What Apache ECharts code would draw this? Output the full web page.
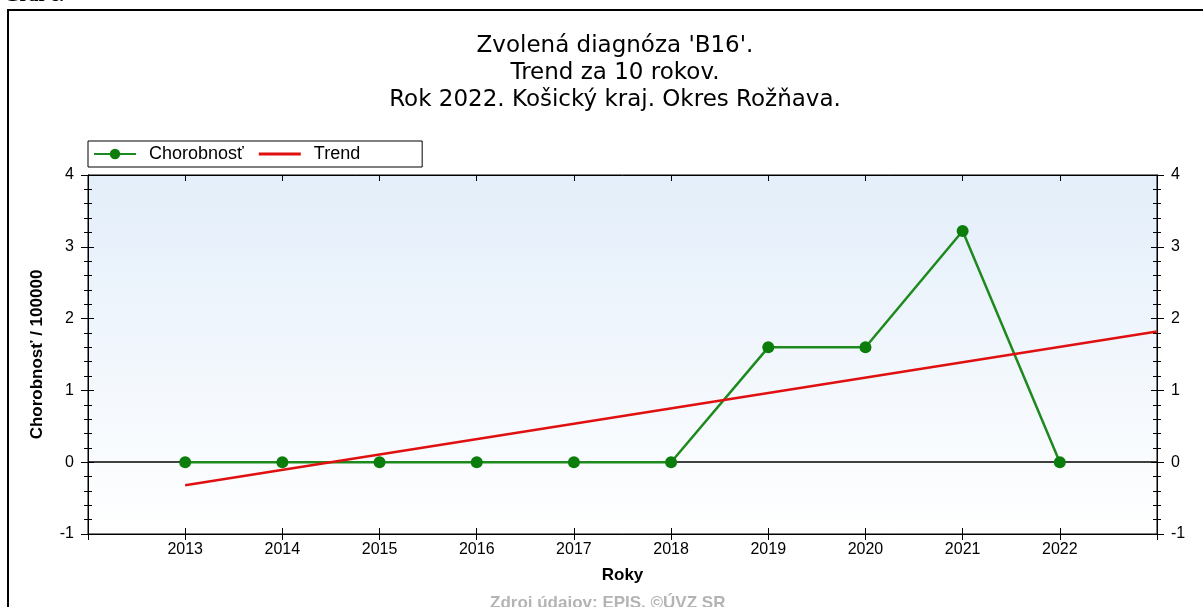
<!DOCTYPE html>
<html>
<head>
<meta charset="utf-8">
<script src="https://cdn.jsdelivr.net/npm/echarts@6/dist/echarts.min.js"></script>
<style>
html, body { margin: 0; padding: 0; background: #fff; }
#chart { width: 1203px; height: 607px; }
</style>
</head>
<body>
<div id="chart"></div>
<script>
// data
const years = [2013, 2014, 2015, 2016, 2017, 2018, 2019, 2020, 2021, 2022];
const chorobnost = [0, 0, 0, 0, 0, 0, 1.6, 1.6, 3.22, 0];
const trendYears = [2013, 2023];
const trendValues = [-0.32, 1.82];
const yTicks = [-1, 0, 1, 2, 3, 4];

const font = 'Liberation Sans, Arial, sans-serif';
const chart = echarts.init(document.getElementById('chart'));

const yBase = {
    type: 'value', min: yTicks[0], max: yTicks[yTicks.length - 1], interval: 1,
    splitLine: { show: false },
    axisLine: { show: true, onZero: false, lineStyle: { color: '#000', width: 1 } },
};
const xBase = {
    type: 'value', min: 2012, max: 2023, interval: 1,
    splitLine: { show: false },
    axisLine: { show: true, onZero: false, lineStyle: { color: '#000', width: 1 } },
};

chart.setOption({
    animation: false,
    title: {
        text: "Zvolená diagnóza 'B16'.\nTrend za 10 rokov.\nRok 2022. Košický kraj. Okres Rožňava.",
        left: 610, top: 28, textAlign: 'center',
        textStyle: { fontFamily: 'DejaVu Sans', fontSize: 23, fontWeight: 'normal', color: '#000', lineHeight: 27 },
    },
    graphic: [
        { type: 'rect', shape: { x: 8, y: 10, width: 1210, height: 620 }, style: { fill: 'none', stroke: '#000', lineWidth: 2 }, z: -10 },
        { type: 'text', left: 4, top: -14, style: { text: 'Graf č.', font: 'bold 20px "Liberation Serif", serif', fill: '#000' } },
        { type: 'text', left: 490, top: 595, style: { text: 'Zdroj údajov: EPIS, ©ÚVZ SR', font: 'bold 17px ' + font, fill: '#b4b4b4' } },
    ],
    legend: {
        left: 88, top: 141,
        padding: [4, 62, 4, 5],
        itemWidth: 42, itemHeight: 13, itemGap: 15,
        borderColor: '#000', borderWidth: 1, backgroundColor: '#fff',
        textStyle: { fontFamily: font, fontSize: 18, color: '#000', padding: [0, 0, 0, 8] },
        data: [
            { name: 'Chorobnosť' },
            { name: 'Trend', icon: 'path://M0,0 L42,0 L42,3 L0,3 Z', itemStyle: { color: '#e01010' } },
        ],
    },
    grid: {
        left: 88, right: 46, top: 175, bottom: 73,
        show: true, borderColor: '#000', borderWidth: 1,
        backgroundColor: new echarts.graphic.LinearGradient(0, 0, 0, 1, [
            { offset: 0, color: '#e3eefa' },
            { offset: 1, color: '#ffffff' },
        ]),
    },
    xAxis: [
        Object.assign({}, xBase, {
            position: 'bottom',
            name: 'Roky', nameLocation: 'middle', nameGap: 33,
            nameTextStyle: { fontFamily: font, fontSize: 17, fontWeight: 'bold', color: '#000' },
            axisTick: { show: true, length: 6, lineStyle: { color: '#000' } },
            axisLabel: {
                fontFamily: font, fontSize: 16, color: '#000', margin: 8,
                formatter: v => (years.indexOf(v) >= 0 ? String(v) : ''),
            },
        }),
        Object.assign({}, xBase, {
            position: 'bottom',
            axisTick: { show: true, inside: true, length: 6, lineStyle: { color: '#000' } },
            axisLabel: { show: false },
        }),
        Object.assign({}, xBase, {
            position: 'top',
            axisTick: { show: true, inside: true, length: 6, lineStyle: { color: '#000' } },
            axisLabel: { show: false },
        }),
    ],
    yAxis: [
        Object.assign({}, yBase, {
            position: 'left',
            name: 'Chorobnosť / 100000', nameLocation: 'middle', nameGap: 42,
            nameTextStyle: { fontFamily: font, fontSize: 17, fontWeight: 'bold', color: '#000' },
            axisTick: { show: true, length: 7, lineStyle: { color: '#000' } },
            minorTick: { show: true, splitNumber: 5, length: 4, lineStyle: { color: '#000' } },
            axisLabel: { fontFamily: font, fontSize: 16, color: '#000', margin: 14 },
        }),
        Object.assign({}, yBase, {
            position: 'left',
            axisTick: { show: true, inside: true, length: 6, lineStyle: { color: '#000' } },
            minorTick: { show: true, splitNumber: 5, length: 4, lineStyle: { color: '#000' } },
            axisLabel: { show: false },
        }),
        Object.assign({}, yBase, {
            position: 'right',
            axisTick: { show: true, length: 7, lineStyle: { color: '#000' } },
            minorTick: { show: true, splitNumber: 5, length: 4, lineStyle: { color: '#000' } },
            axisLabel: { fontFamily: font, fontSize: 16, color: '#000', margin: 14 },
        }),
        Object.assign({}, yBase, {
            position: 'right',
            axisTick: { show: true, inside: true, length: 6, lineStyle: { color: '#000' } },
            minorTick: { show: true, splitNumber: 5, length: 4, lineStyle: { color: '#000' } },
            axisLabel: { show: false },
        }),
    ],
    series: [
        {
            name: 'Chorobnosť', type: 'line',
            data: years.map((y, i) => [y, chorobnost[i]]),
            symbol: 'circle', symbolSize: 12,
            lineStyle: { color: '#1e8a1e', width: 2.5 },
            itemStyle: { color: '#0a7d0a' },
            z: 3,
            markLine: {
                silent: true, symbol: 'none', label: { show: false },
                lineStyle: { color: '#000', width: 1.5, type: 'solid' },
                data: [{ yAxis: 0 }],
                z: 1,
            },
        },
        {
            name: 'Trend', type: 'line',
            data: trendYears.map((y, i) => [y, trendValues[i]]),
            symbol: 'none',
            lineStyle: { color: '#e01010', width: 2.5 },
            itemStyle: { color: '#e01010' },
            z: 4,
        },
    ],
});
</script>
</body>
</html>
